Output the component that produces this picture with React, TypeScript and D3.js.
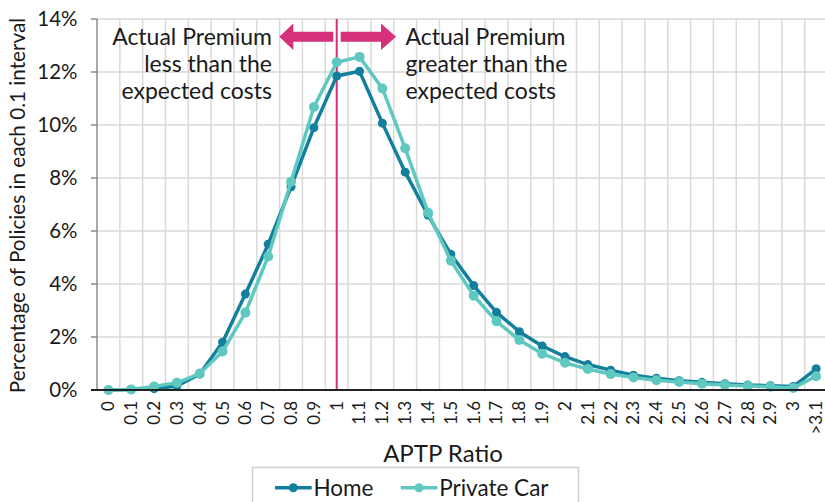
import React from "react";
import * as d3 from "d3";

const categories = ["0","0.1","0.2","0.3","0.4","0.5","0.6","0.7","0.8","0.9","1","1.1","1.2","1.3","1.4","1.5","1.6","1.7","1.8","1.9","2","2.1","2.2","2.3","2.4","2.5","2.6","2.7","2.8","2.9","3",">3.1"];
const homeValues = [0,0.02,0.05,0.15,0.6,1.8,3.62,5.5,7.67,9.9,11.85,12.03,10.07,8.22,6.6,5.12,3.94,2.93,2.2,1.66,1.26,0.96,0.75,0.56,0.44,0.35,0.29,0.24,0.19,0.16,0.13,0.8];
const carValues = [0,0.02,0.13,0.27,0.62,1.45,2.92,5.04,7.86,10.68,12.37,12.57,11.38,9.12,6.7,4.88,3.56,2.59,1.89,1.37,1.03,0.79,0.6,0.47,0.37,0.3,0.24,0.19,0.15,0.12,0.08,0.52];
const yTicks = [0,2,4,6,8,10,12,14];
const seriesNames = ["Home","Private Car"];
const seriesColors = ["#137f9d","#5ec8c1"];
const leftText = ["Actual Premium","less than the","expected costs"];
const rightText = ["Actual Premium","greater than the","expected costs"];

const W = 825, H = 502;
const FONT = "Lato, 'Noto Sans', sans-serif";

export default function App() {
  const left = 97, top = 19, bottom = 390;
  const bw = 22.83;
  const x = d3.scaleBand<string>().domain(categories).range([left, left + bw * categories.length]).padding(0);
  const cx = (c: string) => (x(c) as number) + x.bandwidth() / 2;
  const y = d3.scaleLinear().domain([0, 14]).range([bottom, top]);
  const line = d3.line<number>().x((_, i) => cx(categories[i])).y(d => y(d));
  const series = [homeValues, carValues];
  const refX = cx("1");
  const grid = "#d9d9d9";
  const pink = "#d4317a";
  const ay = 36.7;
  const txt = "#1a1a1a";

  return (
    <svg width={W} height={H} style={{ position: "absolute", left: 0, top: 0, fontFamily: FONT }}>
      <rect width={W} height={H} fill="#fff" />
      {yTicks.filter(t => t > 0).map(t => (
        <line key={"h" + t} x1={left} x2={W + 10} y1={y(t)} y2={y(t)} stroke={grid} strokeWidth={1.5} />
      ))}
      {categories.slice(1).map(c => (
        <line key={"v" + c} x1={x(c)} x2={x(c)} y1={top} y2={bottom} stroke={grid} strokeWidth={1.5} />
      ))}
      <line x1={left} x2={left} y1={top} y2={bottom} stroke="#8c8c8c" strokeWidth={1.5} />
      {yTicks.map(t => (
        <g key={"yt" + t}>
          <line x1={left - 6} x2={left} y1={y(t)} y2={y(t)} stroke="#8c8c8c" strokeWidth={1.5} />
          <text x={77.5} y={y(t)} dy="0.35em" textAnchor="end" fontSize={20.5} fill={txt}>{t + "%"}</text>
        </g>
      ))}
      <text transform={`translate(18,${(top + bottom) / 2 + 1}) rotate(-90)`} dy="0.35em" textAnchor="middle" fontSize={20.7} fill={txt}>
        Percentage of Policies in each 0.1 interval
      </text>
      {categories.map(c => (
        <text key={"xl" + c} transform={`translate(${cx(c)},401) rotate(-90)`} dy="0.35em" textAnchor="end" fontSize={17} fill={txt}>{c}</text>
      ))}
      <text x={443} y={462} textAnchor="middle" fontSize={24} fill={txt}>APTP Ratio</text>
      <line x1={refX} x2={refX} y1={top} y2={bottom} stroke={pink} strokeWidth={2} />
      <path d={`M279.3,${ay} L293.3,${ay - 13.3} L293.3,${ay - 5} L333.3,${ay - 5} L333.3,${ay + 5} L293.3,${ay + 5} L293.3,${ay + 13.3} Z`} fill={pink} />
      <path d={`M396,${ay} L381,${ay - 13.3} L381,${ay - 5} L340.7,${ay - 5} L340.7,${ay + 5} L381,${ay + 5} L381,${ay + 13.3} Z`} fill={pink} />
      {leftText.map((t, i) => (
        <text key={"lt" + i} x={272} y={44.5 + i * 27} textAnchor="end" fontSize={23} fill={txt}>{t}</text>
      ))}
      {rightText.map((t, i) => (
        <text key={"rt" + i} x={405.5} y={44.5 + i * 27} textAnchor="start" fontSize={23} fill={txt}>{t}</text>
      ))}
      {series.map((vals, si) => (
        <g key={"s" + si}>
          <path d={line(vals) || ""} fill="none" stroke={seriesColors[si]} strokeWidth={3.5} strokeLinejoin="round" />
          {vals.map((v, i) => (
            <circle key={i} cx={cx(categories[i])} cy={y(v)} r={si === 0 ? 4.5 : 5} fill={seriesColors[si]} />
          ))}
        </g>
      ))}
      <line x1={left - 6} x2={W + 10} y1={bottom} y2={bottom} stroke="#222" strokeWidth={2} />
      <rect x={252.5} y={467.5} width={326} height={50} fill="#fff" stroke="#d0d0d0" strokeWidth={1.5} />
      {seriesNames.map((n, i) => {
        const lx = i === 0 ? 275 : 400.7;
        return (
          <g key={"lg" + i}>
            <line x1={lx} x2={lx + 36.7} y1={487.7} y2={487.7} stroke={seriesColors[i]} strokeWidth={3.5} />
            <circle cx={lx + 18.3} cy={487.7} r={4.5} fill={seriesColors[i]} />
            <text x={lx + 38.5} y={487.7} dy="0.35em" fontSize={22.5} fill={txt}>{n}</text>
          </g>
        );
      })}
    </svg>
  );
}
